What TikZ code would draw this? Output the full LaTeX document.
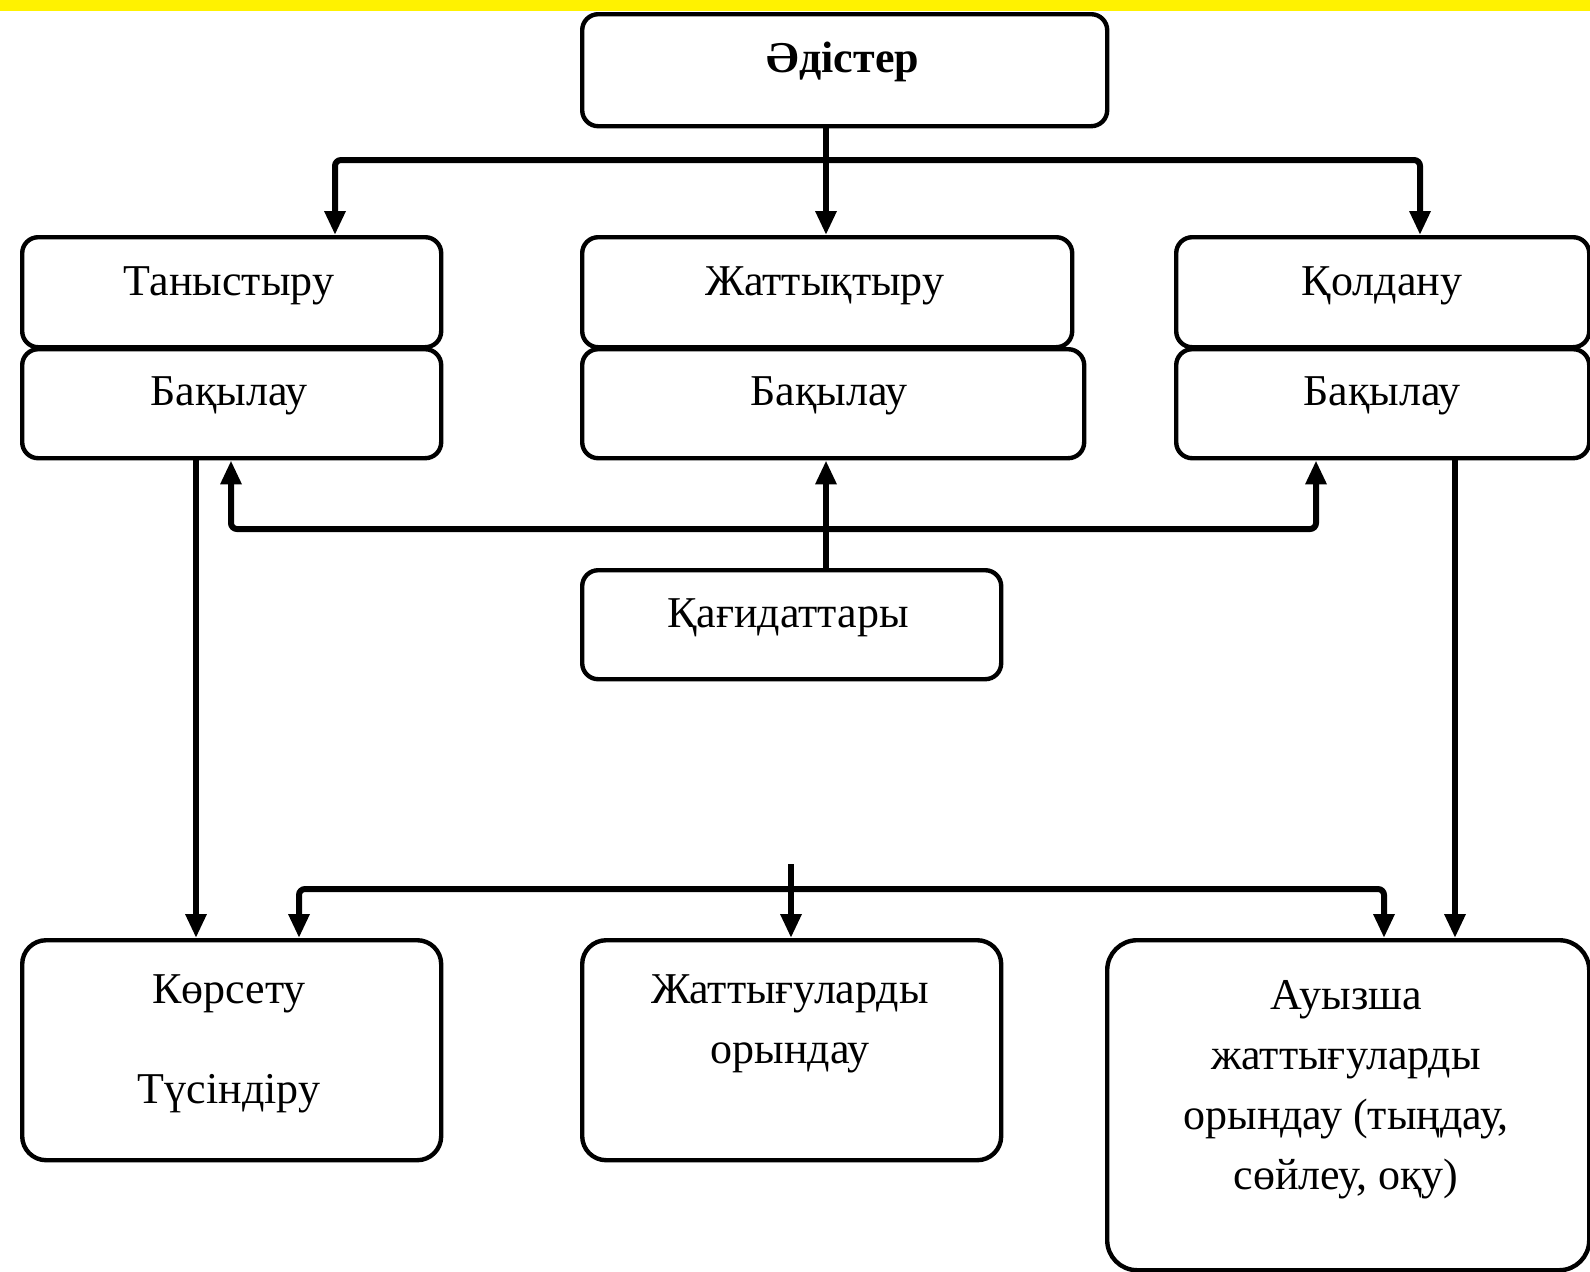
\documentclass[tikz,border=0pt]{standalone}
\usepackage{fontspec}
\setmainfont{Liberation Serif}
\usetikzlibrary{arrows.meta}
\tikzset{
  box/.style={draw, line width=2.2pt, rounded corners=8pt, fill=white, inner sep=0pt, anchor=north west},
  bigbox/.style={box, rounded corners=12pt},
  txt/.style={font=\fontsize{22}{30}\selectfont, align=center, inner sep=0pt},
  arr/.style={line width=3pt, rounded corners=3pt, -{Triangle[length=12pt,width=10pt]}},
}
\begin{document}
\begin{tikzpicture}[x=0.5pt,y=-0.5pt]
\useasboundingbox (0,0) rectangle (1590,1271);
\fill[white] (0,0) rectangle (1590,1271);
\fill[yellow] (0,0) rectangle (1590,11);
% boxes
\node[box, minimum width=262.5pt, minimum height=56pt] (top) at (580,12) {};
\node[txt, font=\fontsize{22}{30}\selectfont\bfseries] (ttop) at (843,62) {Әдістер};
\node[box, minimum width=209.5pt, minimum height=55pt] (tan) at (20,235) {};
\node[txt] (ttan) at (229,286) {Таныстыру};
\node[box, minimum width=209.5pt, minimum height=54.5pt] (bakL) at (20,347) {};
\node[txt] (tbakL) at (229,396) {Бақылау};
\node[box, minimum width=245pt, minimum height=55pt] (jat) at (580,235) {};
\node[txt] (tjat) at (825,286) {Жаттықтыру};
\node[box, minimum width=251pt, minimum height=54.5pt] (bakM) at (580,347) {};
\node[txt] (tbakM) at (829,396) {Бақылау};
\node[box, minimum width=206.5pt, minimum height=55pt] (kol) at (1174,235) {};
\node[txt] (tkol) at (1382,286) {Қолдану};
\node[box, minimum width=206.5pt, minimum height=54.5pt] (bakR) at (1174,347) {};
\node[txt] (tbakR) at (1382,396) {Бақылау};
\node[box, minimum width=209.5pt, minimum height=54.5pt] (kag) at (580,568) {};
\node[txt] (tkag) at (788,618) {Қағидаттары};
\node[bigbox, minimum width=209.5pt, minimum height=110pt] (kor) at (20,938) {};
\node[txt, font=\fontsize{22}{50}\selectfont] (tkor) at (229,1044) {Көрсету\\Түсіндіру};
\node[bigbox, minimum width=209.5pt, minimum height=110pt] (jat2) at (580,938) {};
\node[txt] (tjat2) at (790,1024) {Жаттығуларды\\орындау};
\node[bigbox, rounded corners=15pt, minimum width=241pt, minimum height=165pt] (auy) at (1105,938) {};
\node[txt] (tauy) at (1346,1090) {Ауызша\\жаттығуларды\\орындау (тыңдау,\\сөйлеу, оқу)};
% x positions
\coordinate (xM) at (826,0);
\coordinate (xL1) at (335,0);
\coordinate (xR1) at (1420,0);
\coordinate (xFL) at (231,0);
\coordinate (xFR) at (1316,0);
\coordinate (xLV) at (196,0);
\coordinate (xRV) at (1455,0);
\coordinate (xB1) at (299,0);
\coordinate (xB2) at (1384,0);
\coordinate (h1) at (826,160);
\coordinate (f1) at (826,529);
\coordinate (b0) at (791,864);
\coordinate (b1) at (791,889);
% connectors
\draw[arr] (top.south -| xM) -- (jat.north -| xM);
\draw[arr] (h1) -| (tan.north -| xL1);
\draw[arr] (h1) -| (kol.north -| xR1);
\draw[arr] (kag.north -| xM) -- (bakM.south -| xM);
\draw[arr] (f1) -| (bakL.south -| xFL);
\draw[arr] (f1) -| (bakR.south -| xFR);
\draw[arr] (bakL.south -| xLV) -- (kor.north -| xLV);
\draw[arr] (bakR.south -| xRV) -- (auy.north -| xRV);
\draw[arr] (b0) -- (jat2.north -| b0);
\draw[arr] (b1) -| (kor.north -| xB1);
\draw[arr] (b1) -| (auy.north -| xB2);
\end{tikzpicture}
\end{document}
